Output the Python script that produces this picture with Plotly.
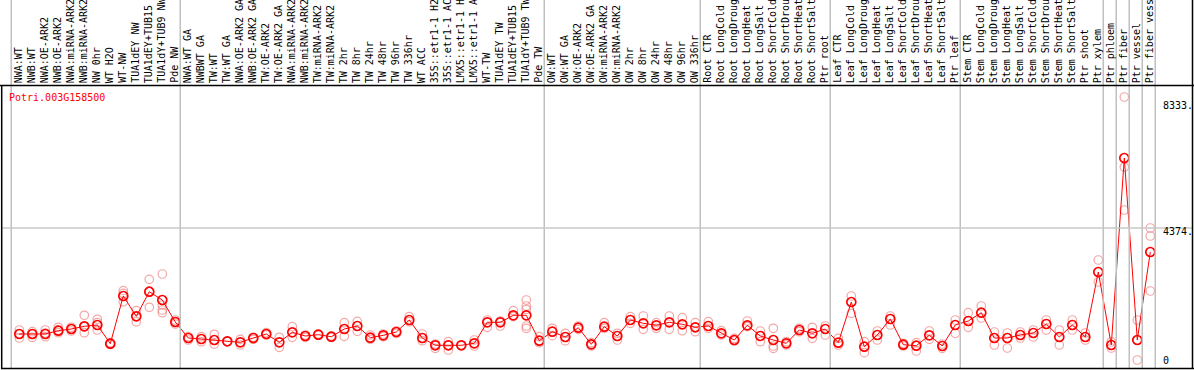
import plotly.graph_objects as go

categories = [
    "NWA:WT", "NWB:WT", "NWA:OE-ARK2", "NWB:OE-ARK2", "NWA:miRNA-ARK2", "NWB:miRNA-ARK2",
    "NW 0hr", "WT H2O", "WT-NW", "TUA1dEY NW", "TUA1dEY+TUB15", "TUA1dY+TUB9 NW", "Pde NW",
    "NWA:WT GA", "NWBWT GA", "TW:WT", "TW:WT GA", "NWA:OE-ARK2 GA", "NWB:OE-ARK2 GA",
    "TW:OE-ARK2", "TW:OE-ARK2 GA", "NWA:miRNA-ARK2", "NWB:miRNA-ARK2", "TW:miRNA-ARK2",
    "TW:miRNA-ARK2", "TW 2hr", "TW 8hr", "TW 24hr", "TW 48hr", "TW 96hr", "TW 336hr",
    "WT ACC", "35S::etr1-1 H2O", "35S::etr1-1 ACC", "LMX5::etr1-1 H2O", "LMX5::etr1-1 ACC",
    "WT-TW", "TUA1dEY TW", "TUA1dEY+TUB15", "TUA1dY+TUB9 TW", "Pde TW",
    "OW:WT", "OW:WT GA", "OW:OE-ARK2", "OW:OE-ARK2 GA", "OW:miRNA-ARK2", "OW:miRNA-ARK2",
    "OW 2hr", "OW 8hr", "OW 24hr", "OW 48hr", "OW 96hr", "OW 336hr",
    "Root CTR", "Root LongCold", "Root LongDrought", "Root LongHeat", "Root LongSalt",
    "Root ShortCold", "Root ShortDrought", "Root ShortHeat", "Root ShortSalt", "Ptr root",
    "Leaf CTR", "Leaf LongCold", "Leaf LongDrought", "Leaf LongHeat", "Leaf LongSalt",
    "Leaf ShortCold", "Leaf ShortDrought", "Leaf ShortHeat", "Leaf ShortSalt", "Ptr leaf",
    "Stem CTR", "Stem LongCold", "Stem LongDrought", "Stem LongHeat", "Stem LongSalt",
    "Stem ShortCold", "Stem ShortDrought", "Stem ShortHeat", "Stem ShortSalt", "Ptr shoot",
    "Ptr xylem", "Ptr phloem", "Ptr fiber", "Ptr vessel", "Ptr fiber vessel",
]

means = [
    861, 861, 861, 970, 1026, 1116, 1159, 540, 2119, 1447, 2261, 1987, 1258,
    728, 695, 662, 619, 586, 728, 861, 586, 917, 795, 838, 771, 1026, 1126, 738, 818,
    927, 1324, 728, 487, 487, 487, 553, 1248, 1248, 1480, 1480, 639,
    937, 762, 1069, 520, 1103, 795, 1324, 1215, 1149, 1248, 1182, 1083,
    1126, 884, 662, 1149, 795, 662, 553, 993, 884, 1026,
    573, 1920, 440, 828, 1358, 507, 473, 818, 464, 1159,
    1291, 1566, 728, 728, 828, 894, 1192, 762, 1159, 762, 2914,
    497, 6688, 662, 3576,
]

replicates = [
    [993, 861, 728], [937, 752, 861], [993, 771, 894], [1083, 993, 904], [1083, 960, 1026],
    [1480, 1103, 904], [1348, 1235, 993], [573, 520, 540], [2295, 2208, 1930], [1632, 1268, 1447],
    [2672, 2261, 1745], [2847, 1821, 1656, 1566], [1324, 1192, 1258],
    [771, 662], [771, 606], [851, 530], [619, 619], [685, 497], [752, 685], [904, 828],
    [752, 420], [1103, 752], [828, 752], [861, 818], [795, 752], [1235, 785], [1281, 950],
    [828, 685], [861, 771], [960, 884], [1434, 1268], [861, 639], [530, 387], [606, 331],
    [487], [662, 464], [1324, 1083], [1291, 1126], [1632, 1434], [1987, 1788, 1679, 1126, 1050],
    [771, 573],
    [1050, 805], [884, 639], [1126, 1017], [573, 464], [1235, 1050], [884, 662], [1434, 1215],
    [1457, 1017], [1235, 1050], [1457, 1017], [1401, 970], [1235, 937],
    [1268, 1050], [970, 828], [718, 629], [1291, 1103], [960, 606], [1050, 464, 387],
    [606, 497], [1050, 937], [1083, 718], [1126, 828],
    [718, 497], [2119, 1546], [606, 242], [960, 662], [1457, 1159], [553, 464], [573, 298],
    [960, 685], [530, 387], [1324, 884],
    [1566, 1083], [1788, 1391], [927, 497], [894, 397], [927, 728], [993, 762], [1324, 993],
    [993, 497], [1324, 993], [894, 662], [3311, 2583],
    [596, 397], [8708, 4967, 6389], [1324, 0, 662], [4371, 4106, 2285],
]

gene_id = "Potri.003G158500"
y_tick_values = [8333, 4374, 0]
y_tick_labels = ["8333.", "4374.", "0"]
separators_after = [-1, 12, 40, 52, 62, 72, 83, 84, 85, 86, 87]

W, H = 1194, 370
X0, DX = 19.3, 13.0
x_range = [-X0 / DX, (W - X0) / DX]
PX_PER_UNIT = 0.0302
ZERO_PX = 360.0
y_range = [-(H - ZERO_PX) / PX_PER_UNIT, ZERO_PX / PX_PER_UNIT]


def py(p):
    return 1 - p / H


def px(p):
    return p / W


idx = list(range(len(categories)))
rx, ry = [], []
for i, reps in enumerate(replicates):
    for v in reps:
        rx.append(i)
        ry.append(v)

fig = go.Figure()
fig.add_trace(go.Scatter(
    x=rx, y=ry, mode="markers", hoverinfo="skip",
    marker=dict(symbol="circle-open", size=8.5, color="rgba(238,130,130,0.7)",
                line=dict(width=1.2)),
    showlegend=False,
))
fig.add_trace(go.Scatter(
    x=idx, y=means, mode="lines+markers",
    line=dict(color="red", width=1),
    marker=dict(symbol="circle-open", size=9, color="red", line=dict(width=1.7)),
    showlegend=False,
))

shapes = []
for k in separators_after:
    xs = k + 0.38
    shapes.append(dict(type="line", xref="x", yref="paper", x0=xs, x1=xs, y0=py(369), y1=1,
                       line=dict(color="#c0c0c0", width=1.5)))
shapes.append(dict(type="line", xref="paper", yref="y", x0=px(2), x1=px(1192),
                   y0=y_tick_values[1], y1=y_tick_values[1],
                   line=dict(color="#c8c8c8", width=1.5)))
shapes.append(dict(type="line", xref="paper", yref="paper", x0=0, x1=1, y0=py(85.5), y1=py(85.5),
                   line=dict(color="black", width=1.5)))
shapes.append(dict(type="line", xref="paper", yref="paper", x0=px(1), x1=1, y0=py(368.5), y1=py(368.5),
                   line=dict(color="black", width=1.5)))
shapes.append(dict(type="line", xref="paper", yref="paper", x0=px(1.7), x1=px(1.7), y0=py(369), y1=py(85.5),
                   line=dict(color="black", width=1.5)))
shapes.append(dict(type="line", xref="paper", yref="paper", x0=px(1192.5), x1=px(1192.5), y0=py(369), y1=1,
                   line=dict(color="black", width=1.5)))

annotations = []
for i, name in enumerate(categories):
    annotations.append(dict(
        x=i - 0.08, y=py(84), xref="x", yref="paper", text=name, showarrow=False,
        textangle=-90, xanchor="center", yanchor="bottom", borderpad=0,
        font=dict(family="DejaVu Sans Mono", size=10, color="black"),
    ))
annotations.append(dict(
    x=px(8), y=py(97.5), xref="paper", yref="paper", text=gene_id, showarrow=False,
    xanchor="left", yanchor="middle", borderpad=0,
    font=dict(family="DejaVu Sans Mono", size=10, color="red"),
))
tick_shifts = [3, -4, 0]
for v, lab, sh in zip(y_tick_values, y_tick_labels, tick_shifts):
    annotations.append(dict(
        x=px(1162), y=v, xref="paper", yref="y", text=lab, showarrow=False,
        xanchor="left", yanchor="middle", yshift=sh, borderpad=0,
        font=dict(family="DejaVu Sans Mono", size=10, color="black"),
    ))

fig.update_layout(
    width=W, height=H, margin=dict(l=0, r=0, t=0, b=0),
    paper_bgcolor="white", plot_bgcolor="white",
    xaxis=dict(range=x_range, visible=False, fixedrange=True),
    yaxis=dict(range=y_range, visible=False, fixedrange=True),
    shapes=shapes, annotations=annotations, hovermode=False,
)
fig.write_html("out.html", config={"displayModeBar": False, "staticPlot": True},
               post_script="document.body.style.margin='0';document.body.style.overflow='hidden';")
